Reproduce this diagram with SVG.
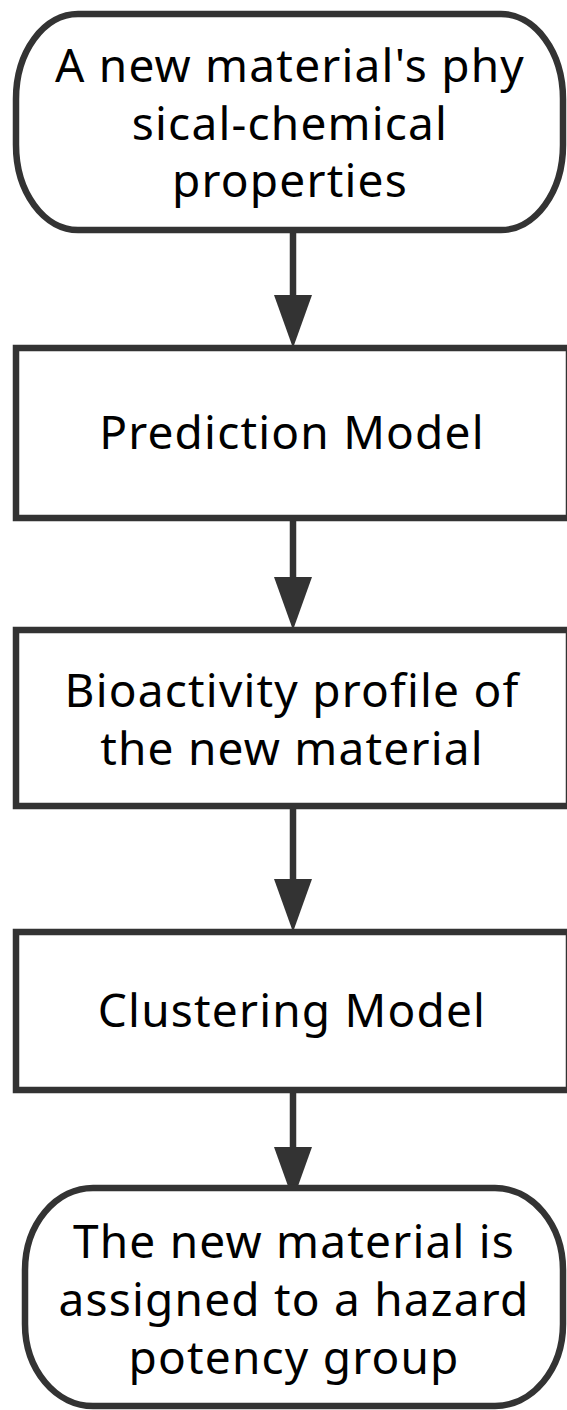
<svg xmlns="http://www.w3.org/2000/svg" width="567" height="1410" viewBox="0 0 567 1410">
<style>
.node{fill:#ffffff;stroke:#333333;stroke-width:6.5}
.t{font-family:"Noto Sans","Open Sans","DejaVu Sans",sans-serif;font-size:46px;letter-spacing:1.2px;fill:#000000;text-anchor:middle}
.edge{stroke:#333333;stroke-width:6.5;fill:none}
</style>
<defs>
<marker id="arrow" viewBox="0 0 53 38" markerUnits="userSpaceOnUse" markerWidth="53" markerHeight="38" refX="2" refY="19" orient="auto">
<path d="M0,0 L53,19 L0,38 Z" fill="#333333"/>
</marker>
</defs>
<g id="connectors">
<line class="edge" x1="293" y1="230" x2="293" y2="297" marker-end="url(#arrow)"/>
<line class="edge" x1="293" y1="518" x2="293" y2="579" marker-end="url(#arrow)"/>
<line class="edge" x1="293" y1="806" x2="293" y2="881" marker-end="url(#arrow)"/>
<line class="edge" x1="293" y1="1090" x2="293" y2="1149" marker-end="url(#arrow)"/>
</g>
<g id="start">
<rect class="node" x="16" y="14" width="547" height="216" rx="62" ry="85"/>
<text class="t" x="290" y="82">A new material's phy</text>
<text class="t" x="290" y="140">sical-chemical</text>
<text class="t" x="290" y="197">properties</text>
</g>
<g id="prediction">
<rect class="node" x="16" y="348" width="553" height="170"/>
<text class="t" x="292" y="449">Prediction Model</text>
</g>
<g id="bioactivity">
<rect class="node" x="16" y="630" width="553" height="176"/>
<text class="t" x="292" y="707">Bioactivity profile of</text>
<text class="t" x="292" y="765">the new material</text>
</g>
<g id="clustering">
<rect class="node" x="16" y="932" width="553" height="158"/>
<text class="t" x="292" y="1027">Clustering Model</text>
</g>
<g id="end">
<rect class="node" x="25" y="1188" width="538" height="218" rx="68" ry="82"/>
<text class="t" x="294" y="1258">The new material is</text>
<text class="t" x="294" y="1316">assigned to a hazard</text>
<text class="t" x="294" y="1374">potency group</text>
</g>
</svg>
